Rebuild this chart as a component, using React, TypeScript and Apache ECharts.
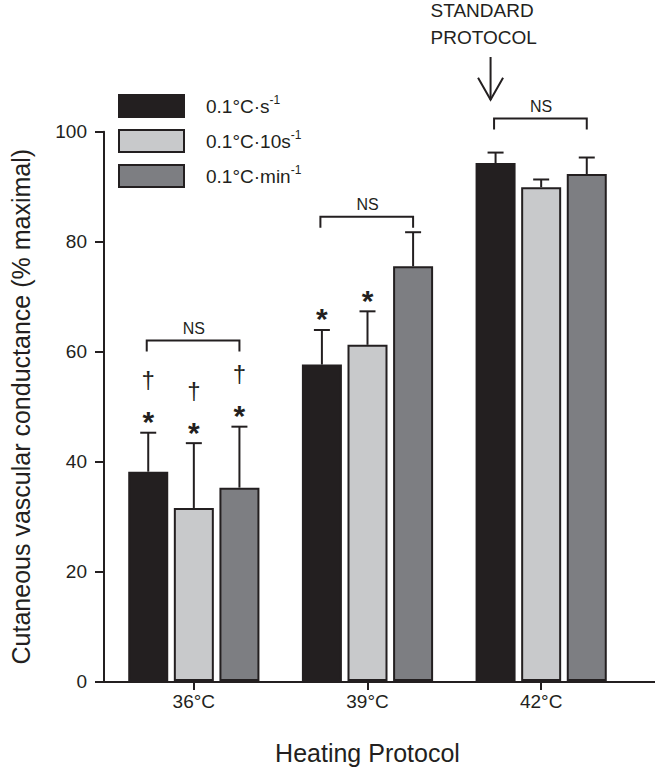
import { useEffect, useRef } from 'react';
import * as echarts from 'echarts';

const categories = ['36°C', '39°C', '42°C'];
const seriesBase = ['0.1°C·s', '0.1°C·10s', '0.1°C·min'];
const seriesNames = seriesBase.map(b => `${b}-1`);
const colors = ['#231f20', '#c8c9cb', '#7d7e82'];

// mean values per heating rate (% maximal)
const perSecond = [38.1, 57.6, 94.3];
const perTenSeconds = [31.5, 61.2, 89.9];
const perMinute = [35.2, 75.5, 92.3];

// upper error (SEM)
const perSecondErr = [7.1, 6.3, 1.9];
const perTenSecondsErr = [11.8, 6.1, 1.4];
const perMinuteErr = [11.1, 6.2, 3.0];

// significance markers, 1 = shown
const starMarks = [
  [1, 1, 0],
  [1, 1, 0],
  [1, 0, 0],
];
const daggerMarks = [
  [1, 0, 0],
  [1, 0, 0],
  [1, 0, 0],
];

// NS bracket heights per category
const nsLevels = [62, 84.5, 102.4];

// "standard protocol" arrow (category, top, tip)
const arrowAt = [[2, 113.6, 105.8]];

const yTicks = [0, 20, 40, 60, 80, 100];

const INK = '#231f20';
const BAR_W = 40;
const BAR_GAP = 0.14;
const STEP = BAR_W * (1 + BAR_GAP);

export default function App() {
  const chartRef = useRef<HTMLDivElement>(null);

  useEffect(() => {
    if (!chartRef.current) return;
    const chart = echarts.init(chartRef.current, null, { renderer: 'svg' });

    const means = [perSecond, perTenSeconds, perMinute];
    const errs = [perSecondErr, perTenSecondsErr, perMinuteErr];

    const errorData: number[][] = [];
    means.forEach((row, s) => {
      row.forEach((m, c) => {
        errorData.push([c, s, m, errs[s][c], starMarks[s][c], daggerMarks[s][c]]);
      });
    });

    const option: echarts.EChartsOption = {
      animation: false,
      textStyle: { fontFamily: '"Liberation Sans", Arial, sans-serif', color: INK },
      grid: [
        { left: 107, right: 27, top: 131.7, bottom: 88.3 },
        { left: 82, right: 0, top: 131.7, bottom: 88.3 },
      ],
      legend: {
        orient: 'vertical',
        left: 113,
        top: 89,
        itemWidth: 65,
        itemHeight: 22,
        itemGap: 11,
        icon: 'rect',
        data: seriesNames,
        formatter: (name: string) => `{sp|}{t|${name.replace(/-1$/, '')}}{sup|-1}`,
        textStyle: {
          color: INK,
          rich: {
            sp: { width: 17 },
            t: { fontSize: 19, lineHeight: 24, color: INK },
            sup: { fontSize: 12, verticalAlign: 'top', lineHeight: 14, color: INK },
          },
        },
      },
      xAxis: [
        {
          type: 'category',
          gridIndex: 0,
          data: categories,
          axisLine: { show: false },
          axisTick: { show: true, alignWithLabel: true, length: 9, lineStyle: { color: INK, width: 2 } },
          axisLabel: { fontSize: 19, color: INK, margin: 11 },
          name: 'Heating Protocol',
          nameLocation: 'middle',
          nameGap: 59,
          nameTextStyle: { fontSize: 25, color: INK },
        },
        {
          type: 'value',
          gridIndex: 1,
          min: 0,
          max: 1,
          axisLine: { show: true, lineStyle: { color: INK, width: 2 } },
          axisTick: { show: false },
          axisLabel: { show: false },
          splitLine: { show: false },
        },
      ],
      yAxis: [
        { type: 'value', gridIndex: 0, min: 0, max: 100, show: false },
        {
          type: 'value',
          gridIndex: 1,
          min: yTicks[0],
          max: yTicks[yTicks.length - 1],
          interval: 20,
          axisLine: { show: true, lineStyle: { color: INK, width: 2 } },
          axisTick: { show: true, length: 9, lineStyle: { color: INK, width: 2 } },
          axisLabel: { fontSize: 19, color: INK, margin: 17 },
          splitLine: { show: false },
          name: 'Cutaneous vascular conductance (% maximal)',
          nameLocation: 'middle',
          nameGap: 71,
          nameTextStyle: { fontSize: 25, color: INK },
        },
      ],
      series: [
        ...means.map((row, s) => ({
          type: 'bar' as const,
          name: seriesNames[s],
          xAxisIndex: 0,
          yAxisIndex: 0,
          data: row,
          barWidth: BAR_W,
          barGap: `${BAR_GAP * 100}%`,
          itemStyle: { color: colors[s], borderColor: INK, borderWidth: 2 },
        })),
        {
          type: 'custom',
          name: 'errors',
          xAxisIndex: 0,
          yAxisIndex: 0,
          clip: false,
          z: 5,
          encode: { x: 0, y: 2 },
          data: errorData,
          renderItem: (_params: any, api: any) => {
            const c = api.value(0);
            const s = api.value(1);
            const m = api.value(2);
            const e = api.value(3);
            const base = api.coord([c, m]);
            const top = api.coord([c, m + e]);
            const x = base[0] + (s - 1) * STEP;
            const capY = top[1];
            const children: any[] = [
              { type: 'line', shape: { x1: x, y1: base[1], x2: x, y2: capY }, style: { stroke: INK, lineWidth: 2 } },
              { type: 'line', shape: { x1: x - 8, y1: capY, x2: x + 8, y2: capY }, style: { stroke: INK, lineWidth: 2 } },
            ];
            if (api.value(4)) {
              children.push({
                type: 'text',
                x: x,
                y: capY - 11,
                style: { text: '*', fontSize: 30, fontWeight: 'bold', fill: INK, align: 'center', verticalAlign: 'middle' },
              });
            }
            if (api.value(5)) {
              children.push({
                type: 'text',
                x: x,
                y: capY - 53,
                style: { text: '†', fontSize: 24, fill: INK, align: 'center', verticalAlign: 'middle' },
              });
            }
            return { type: 'group', children };
          },
        },
        {
          type: 'custom',
          name: 'ns',
          xAxisIndex: 0,
          yAxisIndex: 0,
          clip: false,
          z: 5,
          data: nsLevels.map((v, c) => [c, v]),
          renderItem: (_params: any, api: any) => {
            const p = api.coord([api.value(0), api.value(1)]);
            const xl = p[0] - STEP - 1.5;
            const xr = p[0] + STEP;
            const y = p[1];
            return {
              type: 'group',
              children: [
                {
                  type: 'polyline',
                  shape: { points: [[xl, y + 11], [xl, y], [xr, y], [xr, y + 11]] },
                  style: { stroke: INK, lineWidth: 2, fill: 'none' },
                },
                {
                  type: 'text',
                  x: p[0],
                  y: y - 12,
                  style: { text: 'NS', fontSize: 16, fill: INK, align: 'center', verticalAlign: 'middle' },
                },
              ],
            };
          },
        },
        {
          type: 'custom',
          name: 'standard',
          xAxisIndex: 0,
          yAxisIndex: 0,
          clip: false,
          z: 5,
          data: arrowAt,
          renderItem: (_params: any, api: any) => {
            const topP = api.coord([api.value(0), api.value(1)]);
            const tipP = api.coord([api.value(0), api.value(2)]);
            const x = topP[0] - STEP - 5;
            return {
              type: 'group',
              children: [
                { type: 'line', shape: { x1: x, y1: topP[1], x2: x, y2: tipP[1] }, style: { stroke: INK, lineWidth: 2 } },
                {
                  type: 'polyline',
                  shape: { points: [[x - 12.5, tipP[1] - 22], [x, tipP[1]], [x + 12.5, tipP[1] - 22]] },
                  style: { stroke: INK, lineWidth: 2, fill: 'none' },
                },
                {
                  type: 'text',
                  x: x - 60,
                  y: topP[1] - 6,
                  style: {
                    text: 'STANDARD\nPROTOCOL',
                    fontSize: 19,
                    lineHeight: 27,
                    fill: INK,
                    align: 'left',
                    verticalAlign: 'bottom',
                  },
                },
              ],
            };
          },
        },
      ],
    };

    chart.setOption(option);
    return () => chart.dispose();
  }, []);

  return (
    <div
      ref={chartRef}
      style={{ position: 'absolute', left: 0, top: 0, width: '655px', height: '770px', background: '#fff' }}
    />
  );
}
